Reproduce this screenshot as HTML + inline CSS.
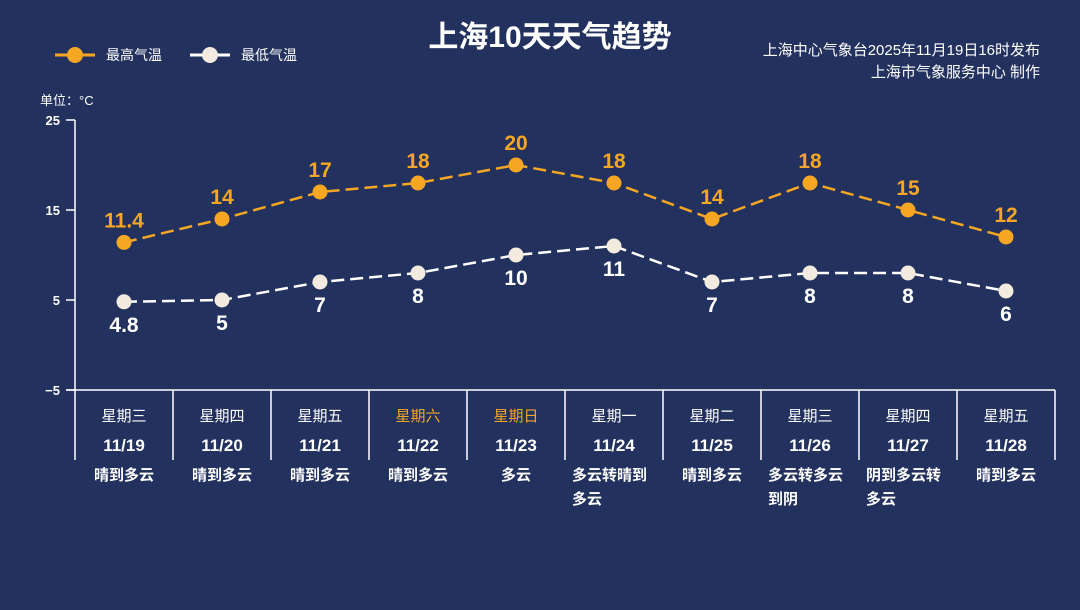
<!DOCTYPE html>
<html><head><meta charset="utf-8"><style>
body{margin:0;width:1080px;height:610px;background:#22315e;overflow:hidden;font-family:"Liberation Sans","Noto Sans CJK SC",sans-serif;}
svg{display:block}
</style></head><body>
<svg width="1080" height="610" id="chart" font-family="Liberation Sans, Noto Sans CJK SC, sans-serif">
<text x="550" y="47" text-anchor="middle" fill="#fff" font-size="30" font-weight="bold">上海10天天气趋势</text>
<g>
<line x1="55" y1="55" x2="95" y2="55" stroke="#f5a623" stroke-width="3"/><circle cx="75" cy="55" r="8" fill="#f5a623"/>
<text x="106" y="60" fill="#fff" font-size="14">最高气温</text></g>
<g>
<line x1="190" y1="55" x2="230" y2="55" stroke="#fff" stroke-width="3"/><circle cx="210" cy="55" r="8" fill="#f3ebe0"/>
<text x="241" y="60" fill="#fff" font-size="14">最低气温</text></g>
<text x="1040" y="55" text-anchor="end" fill="#fff" font-size="15">上海中心气象台2025年11月19日16时发布</text>
<text x="1040" y="77" text-anchor="end" fill="#fff" font-size="15">上海市气象服务中心 制作</text>
<text x="40" y="105" fill="#fff" font-size="13">单位：°C</text>
<g id="axes"></g><g id="marks"></g>
</svg>
<script>
const categories=["星期三","星期四","星期五","星期六","星期日","星期一","星期二","星期三","星期四","星期五"];
const dates=["11/19","11/20","11/21","11/22","11/23","11/24","11/25","11/26","11/27","11/28"];
const weather=[["晴到多云"],["晴到多云"],["晴到多云"],["晴到多云"],["多云"],["多云转晴到","多云"],["晴到多云"],["多云转多云","到阴"],["阴到多云转","多云"],["晴到多云"]];
const highs=[11.4,14,17,18,20,18,14,18,15,12];
const lows=[4.8,5,7,8,10,11,7,8,8,6];
const yTicks=[25,15,5,-5];
const weekend=[false,false,false,true,true,false,false,false,false,false];
const NS="http://www.w3.org/2000/svg";
const x0=75,colW=98,yTop=120,yBot=390,vMin=-5,vMax=25;
const y=v=>yBot-(v-vMin)/(vMax-vMin)*(yBot-yTop);
const xc=i=>x0+colW*(i+0.5);
function mk(tag,attrs,parent,txt){const e=document.createElementNS(NS,tag);for(const k in attrs)e.setAttribute(k,attrs[k]);if(txt!==undefined)e.textContent=txt;parent.appendChild(e);return e;}
const ax=document.getElementById('axes'),mg=document.getElementById('marks');
let e=mk('line',{x1:x0,y1:yTop,x2:x0,y2:460,stroke:'#fff','stroke-width':1.5},ax);


e=mk('line',{x1:66,y1:yBot,x2:x0+colW*10,y2:yBot,stroke:'#fff','stroke-width':1.5},ax);


yTicks.forEach(t=>{mk('line',{x1:66,y1:y(t),x2:x0,y2:y(t),stroke:'#fff','stroke-width':1.5},ax);
const tx=mk('text',{x:60,y:y(t)+5,'text-anchor':'end',fill:'#fff','font-size':13,'font-weight':'bold'},ax,t<0?'−'+(-t):t);

});
categories.forEach((c,i)=>{
const l=mk('line',{x1:x0+colW*(i+1),y1:yBot,x2:x0+colW*(i+1),y2:460,stroke:'#fff','stroke-width':1.5},ax);


let t=mk('text',{x:xc(i),y:421,'text-anchor':'middle',fill:weekend[i]?'#f5a623':'#fff','font-size':15},ax,c);


t=mk('text',{x:xc(i),y:451,'text-anchor':'middle',fill:'#fff','font-size':17,'font-weight':'bold'},ax,dates[i]);


weather[i].forEach((w,j)=>{const single=weather[i].length==1;const tw=mk('text',{x:single?xc(i):x0+colW*i+7,y:480+j*24,'text-anchor':single?'middle':'start',fill:'#fff','font-size':15,'font-weight':'bold'},ax,w);

});
});
function series(vals,color,dot,name,above){
const p=mk('polyline',{points:vals.map((v,i)=>xc(i)+','+y(v)).join(' '),fill:'none',stroke:color,'stroke-width':2.5,'stroke-dasharray':'13,6'},mg);


vals.forEach((v,i)=>{const c=mk('circle',{cx:xc(i),cy:y(v),r:7.5,fill:dot},mg);


const t=mk('text',{x:xc(i),y:above?y(v)-15:y(v)+30,'text-anchor':'middle',fill:color,'font-size':21,'font-weight':'bold'},mg,v);

});}
series(highs,'#f5a623','#f5a623','high',true);
series(lows,'#fff','#f3ebe0','low',false);
</script>
</body></html>
